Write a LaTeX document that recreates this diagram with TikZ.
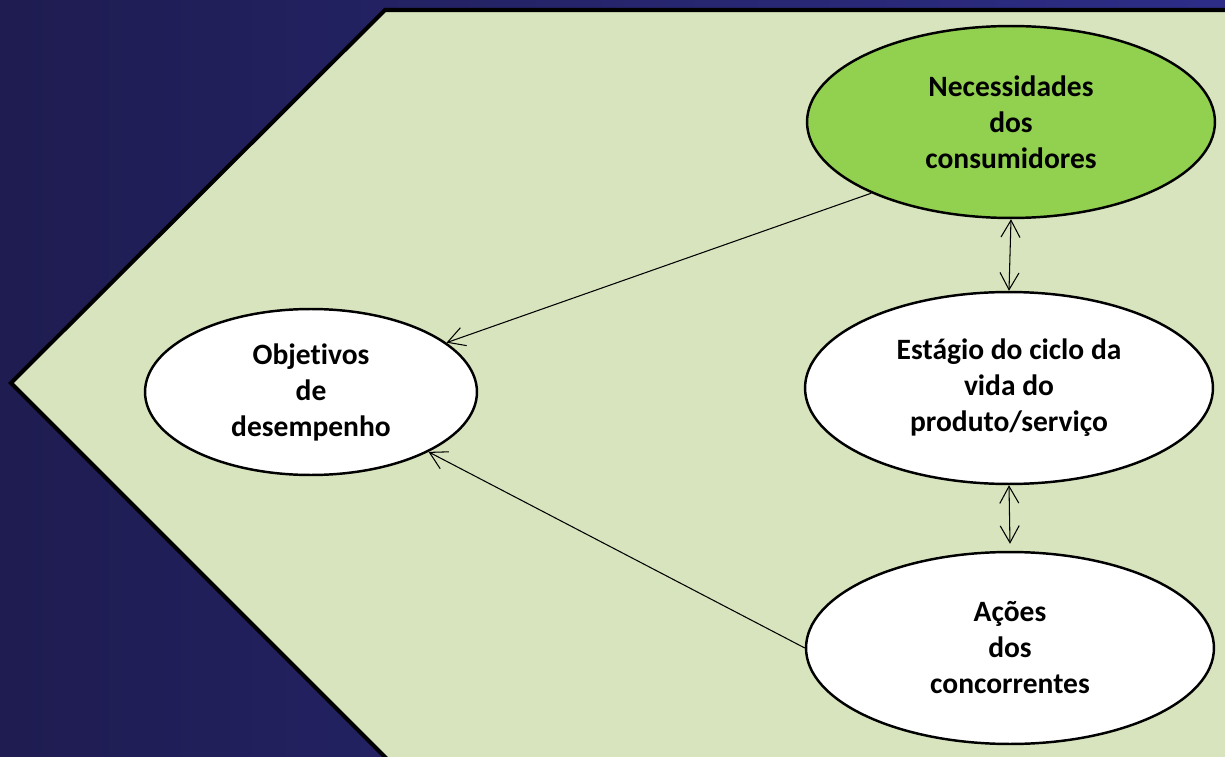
\documentclass[tikz,border=0pt]{standalone}
\usepackage{fontspec}
\setmainfont{Carlito}[Ligatures=CommonOff]
\usetikzlibrary{arrows.meta,shapes.geometric}

\definecolor{navyleft}{HTML}{1E1C50}
\definecolor{navyright}{HTML}{2D2D88}
\definecolor{palegreen}{HTML}{D8E4BD}
\definecolor{leafgreen}{HTML}{92D050}

\begin{document}
\begin{tikzpicture}[x=0.02cm,y=-0.02cm,
    bubble/.style={ellipse, draw, line width=1.4pt, fill=white, inner sep=0pt,
      minimum width=8.16cm, minimum height=3.84cm, align=center,
      font=\fontsize{16.8}{20.5}\selectfont\bfseries},
    link/.style={line width=0.6pt, -{Straight Barb[length=0.34cm,width=0.38cm]}},
    twoway/.style={line width=0.6pt, {Straight Barb[length=0.34cm,width=0.38cm]}-{Straight Barb[length=0.34cm,width=0.38cm]}}]
    \useasboundingbox (0,0) rectangle (1225,757);
    % background
    \fill[left color=navyleft, right color=navyright] (0,0) rectangle (1225,757);
    \draw[line width=2.3pt, fill=palegreen] (1240,10) -- (385,10) -- (11,383) -- (396,768) -- (1240,768) -- cycle;

    \node[bubble, fill=leafgreen] (nec) at (1011,122) {Necessidades\\dos\\consumidores};
    \node[bubble] (est) at (1009,388) {Estágio do ciclo da\\vida do\\produto/serviço};
    \node[bubble] (acoes) at (1010,648) {Ações\\dos\\concorrentes};
    \node[bubble, minimum width=6.64cm, minimum height=3.32cm] (obj) at (311,392) {Objetivos\\de\\desempenho};

    \draw[link] (nec.207) -- (obj.20);
    \draw[link] (acoes.west) -- (obj.-27);
    \draw[twoway] (nec.south) -- (est.north);
    \draw[twoway] (est.south) -- ([yshift=0.14cm]acoes.north);
\end{tikzpicture}
\end{document}
